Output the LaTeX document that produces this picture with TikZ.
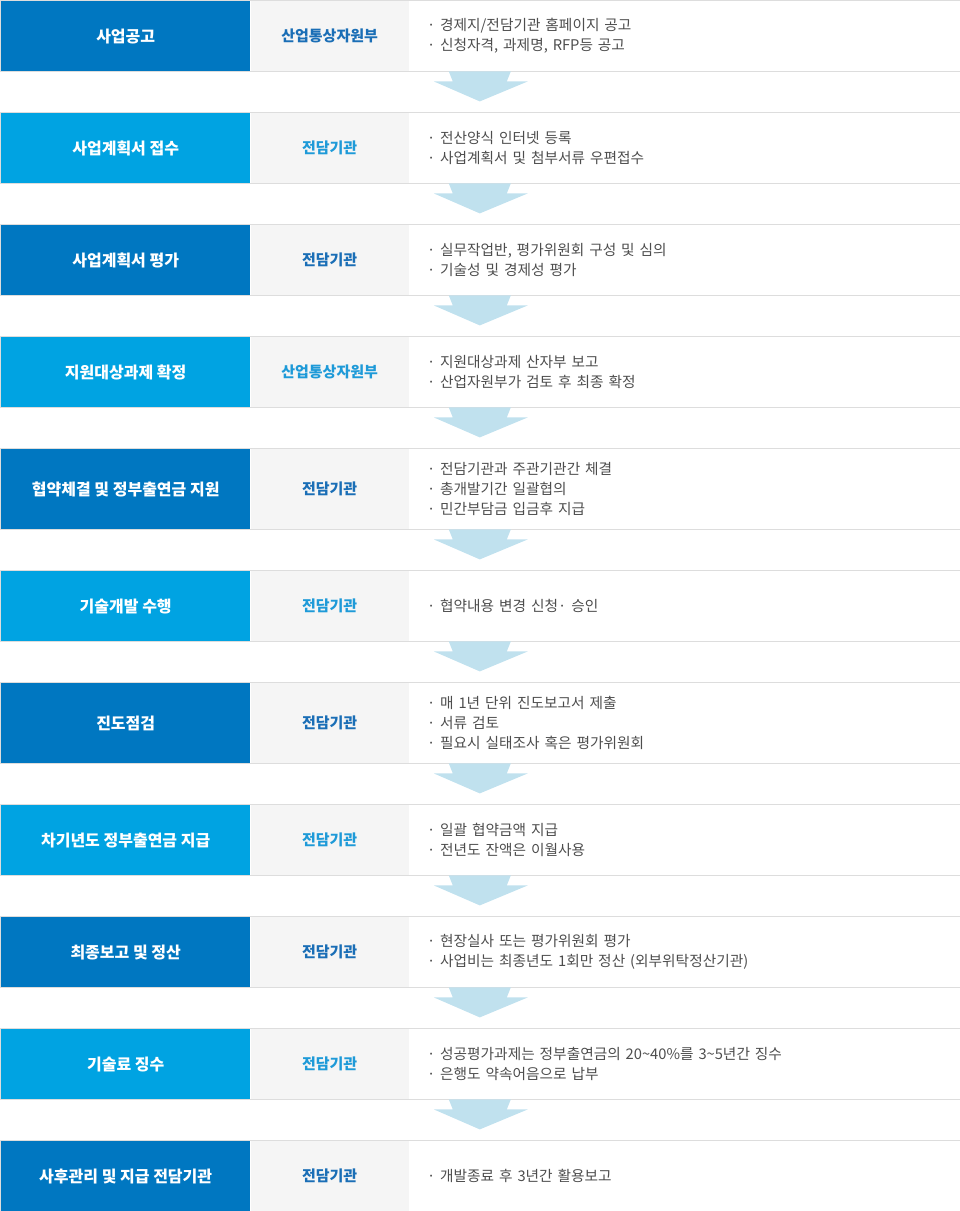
\documentclass[tikz,border=0pt]{standalone}
\usepackage{fontspec}
\setmainfont{Noto Sans CJK KR}
\definecolor{stepdark}{HTML}{0077C1}
\definecolor{steplight}{HTML}{00A3E2}
\definecolor{orgdark}{HTML}{1A6EB6}
\definecolor{orglight}{HTML}{1E9AD8}
\definecolor{orggray}{HTML}{F5F5F5}
\definecolor{rowgray}{HTML}{DDDDDD}
\definecolor{desctext}{HTML}{4D4D4D}
\definecolor{arrowblue}{HTML}{C0E1EE}
\begin{document}
\begin{tikzpicture}[x=1pt,y=1pt,
    stepbox/.style={anchor=north west,inner sep=0pt,minimum width=249pt,text=white,font=\bfseries\fontsize{16}{19}\selectfont},
    orgbox/.style={anchor=north west,inner sep=0pt,minimum width=158pt,fill=orggray,font=\bfseries\fontsize{15}{18}\selectfont},
    descbox/.style={anchor=north west,inner xsep=18pt,inner ysep=0pt,minimum width=551pt,text width=515pt,align=left,text=desctext,font=\fontsize{14.7}{20}\selectfont},
    rowline/.style={draw=rowgray,line width=1pt},
    flowarrow/.style={fill=arrowblue}]
                \useasboundingbox (0,0) rectangle (960,-1211);
                \foreach \n/\t/\h/\k/\title/\org/\desc in {
                    1/1/70/dark/사업공고/산업통상자원부/{· 경제지/전담기관 홈페이지 공고\\· 신청자격, 과제명, RFP등 공고},
                    2/113/70/light/사업계획서 접수/전담기관/{· 전산양식 인터넷 등록\\· 사업계획서 및 첨부서류 우편접수},
                    3/225/70/dark/사업계획서 평가/전담기관/{· 실무작업반, 평가위원회 구성 및 심의\\· 기술성 및 경제성 평가},
                    4/337/70/light/지원대상과제 확정/산업통상자원부/{· 지원대상과제 산자부 보고\\· 산업자원부가 검토 후 최종 확정},
                    5/449/80/dark/협약체결 및 정부출연금 지원/전담기관/{· 전담기관과 주관기관간 체결\\· 총개발기간 일괄협의\\· 민간부담금 입금후 지급},
                    6/571/70/light/기술개발 수행/전담기관/{· 협약내용 변경 신청· 승인},
                    7/683/80/dark/진도점검/전담기관/{· 매 1년 단위 진도보고서 제출\\· 서류 검토\\· 필요시 실태조사 혹은 평가위원회},
                    8/805/70/light/차기년도 정부출연금 지급/전담기관/{· 일괄 협약금액 지급\\· 전년도 잔액은 이월사용},
                    9/917/70/dark/최종보고 및 정산/전담기관/{· 현장실사 또는 평가위원회 평가\\· 사업비는 최종년도 1회만 정산 (외부위탁정산기관)},
                    10/1029/70/light/기술료 징수/전담기관/{· 성공평가과제는 정부출연금의 20\textasciitilde40\%를 3\textasciitilde5년간 징수\\· 은행도 약속어음으로 납부},
                    11/1141/70/dark/사후관리 및 지급 전담기관/전담기관/{· 개발종료 후 3년간 활용보고}}{
                    \node[stepbox,fill=step\k,minimum height=\h] (s\n) at (1,-\t) {\title};
                    \node[orgbox,text=org\k,minimum height=\h] (o\n) at (s\n.north east) {\org};
                    \node[descbox,minimum height=\h] (d\n) at (o\n.north east) {\desc};
                    \draw[rowline] ([shift={(-0.5,0.5)}]s\n.north west) rectangle ([shift={(0.5,-0.5)}]d\n.south east);
                }
                \foreach \a in {1,...,10}
                    \fill[flowarrow] ([xshift=40pt]d\a.south west) -- ++(4,-10) -- ++(-19,0) -- ++(46,-20) -- ++(48,20) -- ++(-21,0) -- ++(4,10) -- cycle;
            \end{tikzpicture}
\end{document}
